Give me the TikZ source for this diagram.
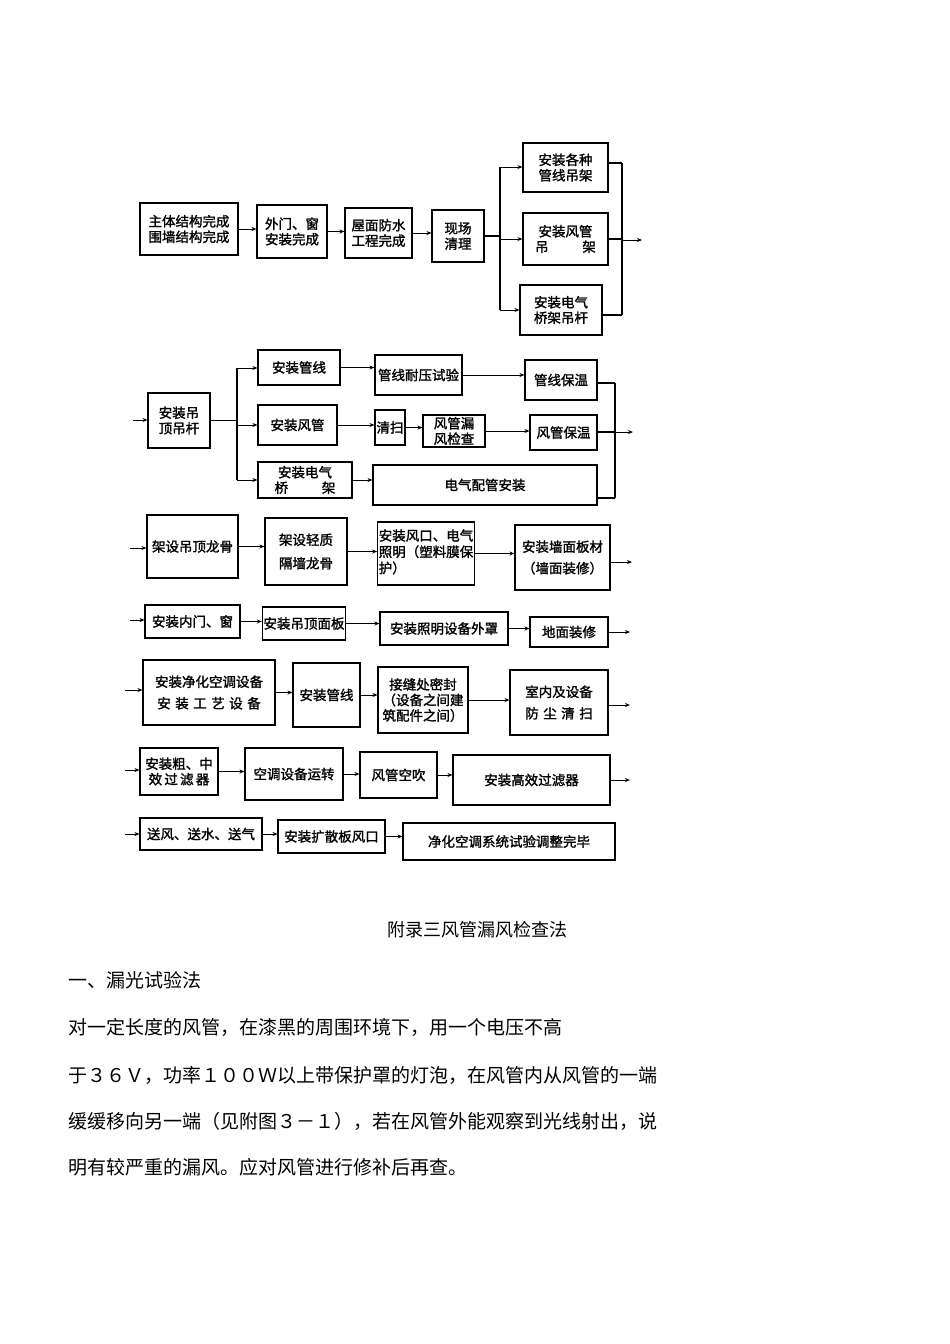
\documentclass[tikz,border=0pt]{standalone}
\usepackage{fontspec}
\setmainfont{Noto Sans CJK SC}
\newfontfamily\fbold{Noto Sans CJK SC}[FakeBold=1.5]
\usetikzlibrary{arrows.meta}
\newcommand\bx[6]{\node[box,minimum width={#4-#2},minimum height={#5-#3}] (#1) at ({(#2+#4)/2},{(#3+#5)/2}) {#6};}
\tikzset{box/.style={draw,line width=1.1pt,inner sep=1pt,align=center,font=\fbold\fontsize{13.5}{15.5}\selectfont},
 arr/.style={-{Stealth[length=5pt,width=4pt]},line width=0.9pt},
 ln/.style={line width=1.1pt},
 txt/.style={anchor=west,inner sep=0,font=\fontsize{19}{21}\selectfont}}
\begin{document}
\begin{tikzpicture}[x=1pt,y=-1pt]
\useasboundingbox[fill=white] (0,0) rectangle (950,1344);
% row 1
\bx{A1}{140}{203}{238}{255}{主体结构完成\\围墙结构完成}
\bx{A2}{257}{205}{327}{258}{外门、窗\\安装完成}
\bx{A3}{345}{208}{412}{258}{屋面防水\\工程完成}
\bx{A4}{432}{210}{484}{262}{现场\\清理}
\bx{B1}{523}{143}{608}{192}{安装各种\\管线吊架}
\bx{B2}{523}{213}{608}{265}{安装风管\\吊\hspace{2.5em}架}
\bx{B3}{520}{285}{602}{335}{安装电气\\桥架吊杆}
\draw[arr] (A1.east) -- (A1.east -| A2.west);
\draw[arr] (A2.east) -- (A2.east -| A3.west);
\draw[arr] (A3.east) -- (A3.east -| A4.west);
\coordinate (b1t) at (500,167); \coordinate (b1b) at (500,310);
\draw[ln] (b1t) -- (b1b);
\draw[ln] (A4.east) -- (A4.east -| b1t);
\draw[arr] (b1t) -- (b1t -| B1.west);
\draw[arr] (B2.west -| b1t) -- (B2.west);
\draw[arr] (b1b) -- (b1b -| B3.west);
\coordinate (m1t) at (622,163); \coordinate (m1b) at (622,315);
\coordinate (o1) at (642,240);
\draw[ln] (m1t) -- (m1b);
\draw[ln] (B1.east |- m1t) -- (m1t);
\draw[ln] (B2.east) -- (B2.east -| m1t);
\draw[ln] (B3.east |- m1b) -- (m1b);
\draw[arr] (o1 -| m1t) -- (o1);
% row 2
\coordinate (i2) at (133,420);
\bx{C}{148}{393}{210}{448}{安装吊\\顶吊杆}
\draw[arr] (i2) -- (i2 -| C.west);
\bx{D1}{258}{350}{340}{385}{安装管线}
\bx{D2}{258}{405}{337}{445}{安装风管}
\bx{D3}{258}{462}{352}{498}{安装电气\\桥\hspace{2.5em}架}
\bx{E1}{375}{355}{462}{395}{管线耐压试验}
\bx{F1}{525}{360}{597}{400}{管线保温}
\bx{E2}{375}{410}{405}{445}{清扫}
\bx{G2}{423}{415}{485}{447}{风管漏\\风检查}
\bx{F2}{530}{415}{597}{450}{风管保温}
\bx{E3}{373}{465}{597}{505}{电气配管安装}
\coordinate (b2t) at (237,368); \coordinate (b2b) at (237,480);
\draw[ln] (b2t) -- (b2b);
\draw[ln] (C.east) -- (C.east -| b2t);
\draw[arr] (b2t) -- (b2t -| D1.west);
\draw[arr] (D2.west -| b2t) -- (D2.west);
\draw[arr] (b2b) -- (b2b -| D3.west);
\draw[arr] (D1.east) -- (D1.east -| E1.west);
\draw[arr] (E1.east) -- (E1.east -| F1.west);
\draw[arr] (D2.east) -- (D2.east -| E2.west);
\draw[arr] (E2.east) -- (E2.east -| G2.west);
\draw[arr] (G2.east) -- (G2.east -| F2.west);
\draw[arr] (D3.east) -- (D3.east -| E3.west);
\coordinate (m2t) at (615,383); \coordinate (m2b) at (615,498);
\coordinate (o2) at (633,432);
\draw[ln] (m2t) -- (m2b);
\draw[ln] (F1.east |- m2t) -- (m2t);
\draw[ln] (F2.east |- o2) -- (o2 -| m2t);
\draw[ln] (E3.east |- m2b) -- (m2b);
\draw[arr] (o2 -| m2t) -- (o2);
% row 3
\coordinate (i3) at (130,548);
\bx{H1}{147}{515}{238}{578}{架设吊顶龙骨}
\bx{H2}{265}{518}{347}{585}{架设轻质\\[8pt]隔墙龙骨}
\bx{H3}{382}{522}{470}{585}{\begin{tabular}{@{}l@{}}安装风口、电气\\照明（塑料膜保\\护）\end{tabular}}
\bx{H4}{515}{525}{610}{590}{安装墙面板材\\[6pt]（墙面装修）}
\coordinate (o3) at (632,562);
\draw[arr] (i3) -- (i3 -| H1.west);
\draw[arr] (H1.east) -- (H1.east -| H2.west);
\draw[arr] (H2.east) -- (H2.east -| H3.west);
\draw[arr] (H3.east) -- (H3.east -| H4.west);
\draw[arr] (H4.east |- o3) -- (o3);
% row 4
\coordinate (i4) at (130,620);
\bx{I1}{145}{605}{240}{638}{安装内门、窗}
\bx{I2}{263}{607}{345}{640}{安装吊顶面板}
\bx{I3}{380}{612}{508}{645}{安装照明设备外罩}
\bx{I4}{530}{617}{608}{647}{地面装修}
\coordinate (o4) at (630,632);
\draw[arr] (i4) -- (i4 -| I1.west);
\draw[arr] (I1.east) -- (I1.east -| I2.west);
\draw[arr] (I2.east) -- (I2.east -| I3.west);
\draw[arr] (I3.east) -- (I3.east -| I4.west);
\draw[arr] (I4.east |- o4) -- (o4);
% row 5
\coordinate (i5) at (125,690);
\bx{J1}{143}{660}{275}{725}{安装净化空调设备\\[6pt]安\,\,装\,\,工\,\,艺\,\,设\,\,备}
\bx{J2}{293}{663}{360}{727}{安装管线}
\bx{J3}{378}{667}{468}{733}{接缝处密封\\（设备之间建\\筑配件之间）}
\bx{J4}{510}{670}{608}{735}{室内及设备\\[6pt]防\,\,尘\,\,清\,\,扫}
\coordinate (o5) at (630,705);
\draw[arr] (i5) -- (i5 -| J1.west);
\draw[arr] (J1.east) -- (J1.east -| J2.west);
\draw[arr] (J2.east) -- (J2.east -| J3.west);
\draw[arr] (J3.east) -- (J3.east -| J4.west);
\draw[arr] (J4.east |- o5) -- (o5);
% row 6
\coordinate (i6) at (125,770);
\bx{K1}{140}{748}{218}{795}{安装粗、中\\效\,过\,滤\,器}
\bx{K2}{245}{748}{343}{800}{空调设备运转}
\bx{K3}{360}{752}{437}{798}{风管空吹}
\bx{K4}{453}{755}{610}{805}{安装高效过滤器}
\coordinate (o6) at (630,780);
\draw[arr] (i6) -- (i6 -| K1.west);
\draw[arr] (K1.east) -- (K1.east -| K2.west);
\draw[arr] (K2.east) -- (K2.east -| K3.west);
\draw[arr] (K3.east) -- (K3.east -| K4.west);
\draw[arr] (K4.east |- o6) -- (o6);
% row 7
\coordinate (i7) at (125,834);
\bx{L1}{140}{818}{262}{850}{送风、送水、送气}
\bx{L2}{278}{820}{385}{853}{安装扩散板风口}
\bx{L3}{403}{823}{615}{860}{净化空调系统试验调整完毕}
\draw[arr] (i7) -- (i7 -| L1.west);
\draw[arr] (L1.east) -- (L1.east -| L2.west);
\draw[arr] (L2.east) -- (L2.east -| L3.west);
% text
\node[font=\fontsize{18}{20}\selectfont] (t0) at (477,930) {附录三风管漏风检查法};
\node[txt] (t1) at (68,980) {一、漏光试验法};
\node[txt] (t2) at (68,1027) {对一定长度的风管，在漆黑的周围环境下，用一个电压不高};
\node[txt] (t3) at (68,1075) {于３６Ｖ，功率１００Ｗ以上带保护罩的灯泡，在风管内从风管的一端};
\node[txt] (t4) at (68,1121) {缓缓移向另一端（见附图３－１），若在风管外能观察到光线射出，说};
\node[txt] (t5) at (68,1167) {明有较严重的漏风。应对风管进行修补后再查。};
\end{tikzpicture}
\end{document}
